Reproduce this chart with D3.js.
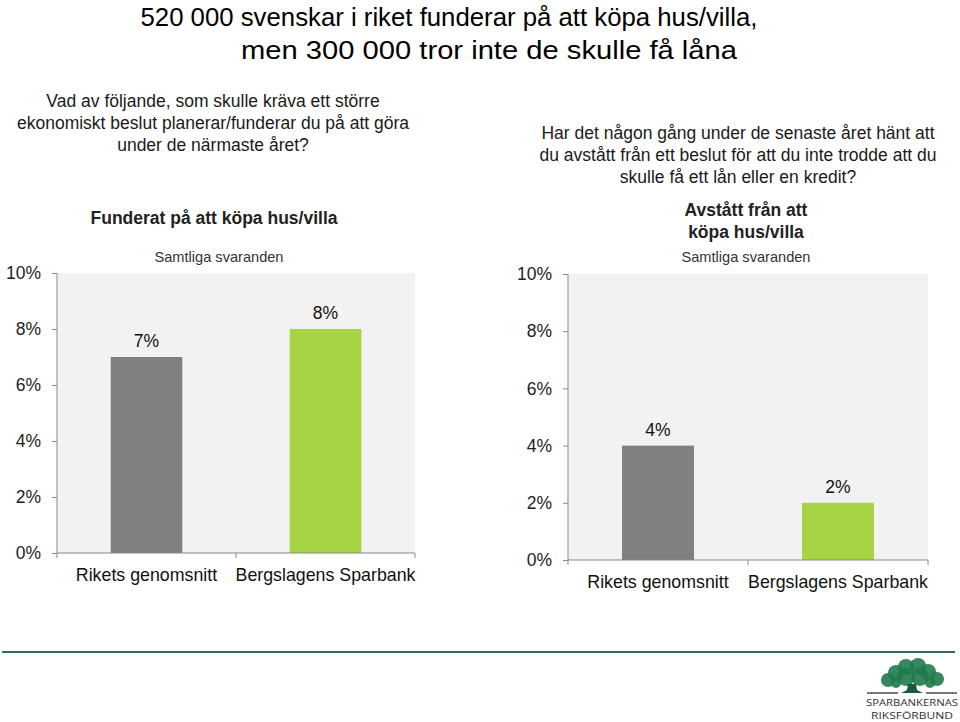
<!DOCTYPE html>
<html lang='sv'>
  <meta charset='utf-8'>
  <style>
    body{ margin: 0; background: #fff; }
    svg{ display: block; font-family: 'Liberation Sans', Arial, Helvetica, sans-serif; }
    .axis path, .axis line{ stroke: #898989; }
    .axis text{ font-size: 17.5px; fill: #222; font-family: 'Liberation Sans', Arial, sans-serif; }
    text.q{ font-size: 17.5px; fill: #1a1a1a; }
    text.ct{ font-size: 17.5px; font-weight: bold; fill: #222; }
    text.sub{ font-size: 14.6px; fill: #333; }
    text.val{ font-size: 17.5px; fill: #111; }
    text.cat{ font-size: 17.8px; fill: #111; }
  </style>
  <body>
    <svg width='960' height='722'></svg>
    <script src='https://d3js.org/d3.v7.min.js'></script>
    <script>
      // data
      const categories = ['Rikets genomsnitt', 'Bergslagens Sparbank']
      const funderatValues = [7, 8]
      const avstattValues = [4, 2]
      const yTicks = [0, 2, 4, 6, 8, 10]
      const barColors = ['#808080', '#a5d344']

      const titleLines = ['520 000 svenskar i riket funderar på att köpa hus/villa,', 'men 300 000 tror inte de skulle få låna']
      const leftQuestion = ['Vad av följande, som skulle kräva ett större', 'ekonomiskt beslut planerar/funderar du på att göra', 'under de närmaste året?']
      const rightQuestion = ['Har det någon gång under de senaste året hänt att', 'du avstått från ett beslut för att du inte trodde att du', 'skulle få ett lån eller en kredit?']
      const leftChartTitle = ['Funderat på att köpa hus/villa']
      const rightChartTitle = ['Avstått från att', 'köpa hus/villa']
      const subTitle = 'Samtliga svaranden'

      const svg = d3.select('svg')

      // titel
      svg.append('text')
        .attr('text-anchor', 'middle')
        .style('font-size', '26.3px')
        .attr('fill', '#000')
        .selectAll('tspan')
        .data(titleLines)
        .join('tspan')
        .attr('x', (d, i) => i === 0 ? 449 : 489)
        .attr('y', (d, i) => 26 + i * 33)
        .attr('textLength', (d, i) => i === 0 ? 617 : 496)
        .attr('lengthAdjust', 'spacingAndGlyphs')
        .text(d => d)

      const multiLine = (lines, cls, cx, y0, lh) => {
        svg.append('text')
          .attr('class', cls)
          .attr('text-anchor', 'middle')
          .selectAll('tspan')
          .data(lines)
          .join('tspan')
          .attr('x', cx)
          .attr('y', (d, i) => y0 + i * lh)
          .text(d => d)
      }

      multiLine(leftQuestion, 'q', 213, 107, 22)
      multiLine(rightQuestion, 'q', 738, 139, 22)

      const drawChart = (cfg) => {
        const x = d3.scaleBand()
          .domain(categories)
          .range([cfg.x0, cfg.x1])
          .paddingInner(0.6)
          .paddingOuter(0.3)
        const y = d3.scaleLinear()
          .domain([0, 10])
          .range([cfg.y0, cfg.y1])

        const g = svg.append('g')

        g.append('rect')
          .attr('x', cfg.x0)
          .attr('y', cfg.y1)
          .attr('width', cfg.x1 - cfg.x0)
          .attr('height', cfg.y0 - cfg.y1)
          .attr('fill', '#f2f2f2')

        g.selectAll('.bar')
          .data(cfg.values)
          .join('rect')
          .attr('class', 'bar')
          .attr('x', (d, i) => x(categories[i]))
          .attr('y', d => y(d))
          .attr('width', x.bandwidth())
          .attr('height', d => y(0) - y(d))
          .attr('fill', (d, i) => barColors[i])

        g.selectAll('.val')
          .data(cfg.values)
          .join('text')
          .attr('class', 'val')
          .attr('text-anchor', 'middle')
          .attr('x', (d, i) => x(categories[i]) + x.bandwidth() / 2)
          .attr('y', d => y(d) - 10)
          .text(d => d + '%')

        const yAxis = g.append('g')
          .attr('class', 'axis')
          .attr('transform', `translate(${cfg.x0},0)`)
          .call(d3.axisLeft(y).tickValues(yTicks).tickSize(5).tickPadding(11).tickFormat(d => d + '%'))
        yAxis.select('.domain').attr('d', `M0,${cfg.y0}V${cfg.y1}`)

        // x-axel med streck mellan kategorierna
        const sep = [cfg.x0, cfg.x0 + (cfg.x1 - cfg.x0) / 2, cfg.x1]
        g.append('line')
          .attr('x1', cfg.x0).attr('x2', cfg.x1)
          .attr('y1', cfg.y0).attr('y2', cfg.y0)
          .attr('stroke', '#898989')
        g.selectAll('.sep')
          .data(sep)
          .join('line')
          .attr('x1', d => d).attr('x2', d => d)
          .attr('y1', cfg.y0).attr('y2', cfg.y0 + 5)
          .attr('stroke', '#898989')

        g.selectAll('.cat')
          .data(categories)
          .join('text')
          .attr('class', 'cat')
          .attr('text-anchor', 'middle')
          .attr('x', d => x(d) + x.bandwidth() / 2)
          .attr('y', cfg.y0 + 28)
          .text(d => d)
      }

      drawChart({x0: 57, x1: 415, y0: 553, y1: 273, values: funderatValues})
      drawChart({x0: 568, x1: 928, y0: 560, y1: 274, values: avstattValues})

      multiLine(leftChartTitle, 'ct', 214, 224, 22)
      multiLine(rightChartTitle, 'ct', 746, 216, 22)
      multiLine([subTitle], 'sub', 219, 262, 0)
      multiLine([subTitle], 'sub', 746, 262, 0)

      // grön linje
      svg.append('line')
        .attr('x1', 2).attr('x2', 955)
        .attr('y1', 652).attr('y2', 652)
        .attr('stroke', '#2f6f50')
        .attr('stroke-width', 2)

      // logotyp
      const logo = svg.append('g').attr('transform', 'translate(912,676)')
      const crown = [[-24, 4, 7], [-16, -3, 8], [-6, -9, 8], [6, -10, 8], [16, -4, 8], [25, 3, 7], [-6, 1, 9], [8, 1, 9], [-16, 7, 5], [18, 7, 5]]
      logo.selectAll('circle')
        .data(crown)
        .join('circle')
        .attr('cx', d => d[0]).attr('cy', d => d[1]).attr('r', d => d[2])
        .attr('fill', '#1f7a4d')
        .attr('opacity', 0.9)
      logo.append('path')
        .attr('d', 'M-4,8 L-5,14 L-11,17 L11,17 L5,14 L4,8 Z')
        .attr('fill', '#1d5a3c')
      logo.append('line').attr('x1', -45).attr('x2', -14).attr('y1', 17).attr('y2', 17).attr('stroke', '#777').attr('stroke-width', 2)
      logo.append('line').attr('x1', 14).attr('x2', 45).attr('y1', 17).attr('y2', 17).attr('stroke', '#777').attr('stroke-width', 2)
      const logoText = ['SPARBANKERNAS', 'RIKSFÖRBUND']
      logo.selectAll('.lt')
        .data(logoText)
        .join('text')
        .attr('class', 'lt')
        .attr('text-anchor', 'middle')
        .style('font-size', '9.5px')
        .style('font-family', "'Open Sans', sans-serif")
        .attr('fill', '#333')
        .attr('x', 0)
        .attr('y', (d, i) => 30 + i * 13)
        .attr('textLength', (d, i) => i === 0 ? 92 : 82)
        .attr('lengthAdjust', 'spacingAndGlyphs')
        .text(d => d)
    </script>
  </body>
</html>
